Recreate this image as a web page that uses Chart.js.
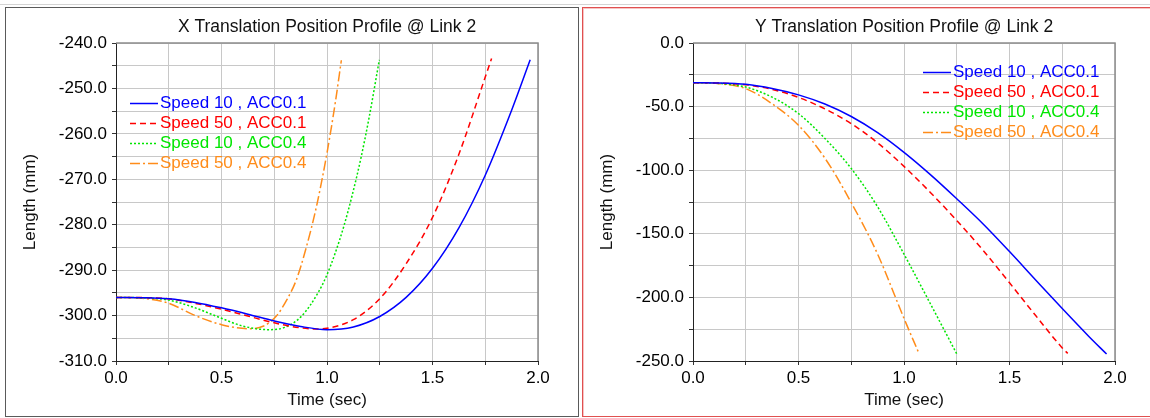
<!DOCTYPE html>
<html lang="en">
	<head>
		<meta charset="utf-8" />
		<title>Translation Position Profile @ Link 2</title>
		<script src="https://cdn.jsdelivr.net/npm/chart.js"></script>
		<style>
			body { margin: 0; width: 1150px; height: 418px; overflow: hidden; background: #fff; }
			.topline { position: absolute; left: 0; top: 4px; width: 1150px; height: 1px; background: #d4d4d4; }
			.panel { position: absolute; top: 7px; height: 408px; }
			#panelX { left: 5px; width: 572px; border: 1px solid #5a5a5a; }
			#panelY { left: 582px; width: 580px; border: 1px solid #e05050; box-shadow: inset 1px 1px 0 #f7c4c4; }
			canvas { position: absolute; left: 0; top: 0; }
		</style>
	</head>
	<body>
		<div class="topline"></div>
		<div class="panel" id="panelX"><canvas id="chartX" width="572" height="408"></canvas></div>
		<div class="panel" id="panelY"><canvas id="chartY" width="572" height="408"></canvas></div>
		<script>
			// series labels
			const seriesNames = ['Speed 10 , ACC0.1', 'Speed 50 , ACC0.1', 'Speed 10 , ACC0.4', 'Speed 50 , ACC0.4'];

			// X translation (mm) against time (sec)
			const xBlueT   = [0, 0.125, 0.25, 0.375, 0.5, 0.625, 0.75, 0.875, 1.0, 1.125, 1.25, 1.375, 1.5, 1.625, 1.75, 1.875, 1.963];
			const xBlueV   = [-296.0, -296.05, -296.3, -297.1, -298.3, -299.7, -301.2, -302.4, -303.1, -302.5, -300.2, -296.0, -289.6, -280.7, -269.1, -254.8, -243.7];
			const xRedT    = [0, 0.125, 0.25, 0.375, 0.5, 0.625, 0.75, 0.875, 0.95, 1.0, 1.125, 1.25, 1.375, 1.5, 1.625, 1.75, 1.78];
			const xRedV    = [-296.0, -296.05, -296.3, -297.3, -298.6, -300.1, -301.6, -302.7, -302.95, -302.8, -300.9, -296.3, -288.6, -278.4, -264.5, -247.5, -243.4];
			const xGreenT  = [0, 0.125, 0.25, 0.375, 0.5, 0.6, 0.72, 0.8, 0.88, 0.96, 1.0, 1.04, 1.08, 1.12, 1.16, 1.2, 1.248];
			const xGreenV  = [-296.0, -296.1, -296.6, -298.3, -300.6, -302.3, -303.1, -302.6, -300.1, -294.8, -291.0, -286.1, -280.3, -273.4, -265.5, -256.3, -243.7];
			const xOrangeT = [0, 0.125, 0.25, 0.375, 0.5, 0.63, 0.7, 0.76, 0.81, 0.855, 0.9, 0.95, 1.0, 1.04, 1.068];
			const xOrangeV = [-296.0, -296.2, -297.3, -300.0, -302.0, -302.9, -302.3, -300.1, -296.5, -292.1, -285.3, -276.0, -264.2, -252.9, -243.8];

			// Y translation (mm) against time (sec)
			const yBlueT   = [0, 0.125, 0.25, 0.375, 0.5, 0.625, 0.75, 0.875, 1.0, 1.125, 1.25, 1.375, 1.5, 1.625, 1.75, 1.875, 1.96];
			const yBlueV   = [-31.2, -31.4, -32.5, -35.8, -40.8, -48.0, -57.8, -70.5, -86.0, -103.5, -122.5, -142.3, -164.0, -186.5, -208.8, -230.5, -244.5];
			const yRedT    = [0, 0.125, 0.25, 0.375, 0.5, 0.625, 0.75, 0.875, 1.0, 1.125, 1.25, 1.375, 1.5, 1.625, 1.75, 1.776];
			const yRedV    = [-31.2, -31.5, -32.8, -36.5, -42.8, -51.8, -63.4, -78.5, -97.0, -117.5, -139.5, -163.0, -188.5, -214.5, -239.7, -244.0];
			const yGreenT  = [0, 0.125, 0.25, 0.375, 0.5, 0.625, 0.75, 0.875, 1.0, 1.125, 1.252];
			const yGreenV  = [-31.2, -31.8, -34.6, -42.6, -55.5, -75.0, -98.7, -128.8, -166.0, -205.0, -245.0];
			const yOrangeT = [0, 0.125, 0.25, 0.375, 0.5, 0.625, 0.75, 0.875, 1.0, 1.072];
			const yOrangeV = [-31.2, -32.0, -35.9, -47.8, -64.7, -90.5, -125.5, -166.0, -216.5, -244.5];

			// axis ranges and tick steps
			const timeMin = 0, timeMax = 2, timeStep = 0.25, timeLabelStep = 0.5;
			const xLenMin = -310, xLenMax = -240, xLenStep = 5, xLenLabelStep = 10;
			const yLenMin = -250, yLenMax = 0, yLenStep = 25, yLenLabelStep = 50;

			const colors = ['#0000ff', '#ff0000', '#00e600', '#ff8c1a'];
			const dashes = [[], [6, 4], [2, 2], [10, 3, 2, 3]];

			Chart.defaults.font.family = '"Liberation Sans", Arial, sans-serif';
			Chart.defaults.font.size = 17;
			Chart.defaults.color = '#000';

			function pts(ts, vs) {
				return ts.map((t, i) => ({x: t, y: vs[i]}));
			}

			function onStep(v, step) {
				const r = Math.abs(v / step - Math.round(v / step));
				return r < 1e-6;
			}

			/* legend drawn inside the plot, text in line colour */
			const insideLegend = {
				id: 'insideLegend',
				afterDatasetsDraw(chart, args, opts) {
					const {ctx, chartArea} = chart;
					const x0 = chartArea.left + opts.x;
					const y0 = chartArea.top + opts.y;
					ctx.save();
					ctx.font = '17px "Liberation Sans", Arial, sans-serif';
					ctx.textBaseline = 'middle';
					chart.data.datasets.forEach((ds, i) => {
						const y = Math.round(y0 + i * 20) + 0.5;
						ctx.strokeStyle = ds.borderColor;
						ctx.lineWidth = 1.5;
						ctx.setLineDash(ds.borderDash);
						ctx.beginPath();
						ctx.moveTo(x0, y);
						ctx.lineTo(x0 + opts.len, y);
						ctx.stroke();
						ctx.setLineDash([]);
						ctx.fillStyle = ds.borderColor;
						ctx.fillText(ds.label, x0 + opts.len + 2, y);
					});
					ctx.restore();
				}
			};

			/* grey frame on top and right of plot */
			const plotFrame = {
				id: 'plotFrame',
				beforeDatasetsDraw(chart) {
					const {ctx, chartArea} = chart;
					ctx.save();
					ctx.strokeStyle = '#8c8c8c';
					ctx.lineWidth = 1.5;
					ctx.beginPath();
					ctx.moveTo(chartArea.left, chartArea.top);
					ctx.lineTo(chartArea.right, chartArea.top);
					ctx.lineTo(chartArea.right, chartArea.bottom);
					ctx.stroke();
					ctx.restore();
				}
			};

			function makeChart(id, title, series, yMin, yMax, yStep, yLabelStep, legendPos) {
				const datasets = series.map((s, i) => ({
					label: seriesNames[i],
					data: pts(s[0], s[1]),
					borderColor: colors[i],
					backgroundColor: colors[i],
					borderDash: dashes[i],
					borderWidth: 1.5,
					pointRadius: 0,
					fill: false,
					cubicInterpolationMode: 'monotone'
				}));
				return new Chart(document.getElementById(id), {
					type: 'line',
					data: { datasets: datasets },
					plugins: [plotFrame, insideLegend],
					options: {
						responsive: false,
						animation: false,
						layout: { padding: { left: 0, right: 40, top: 0, bottom: 0 } },
						plugins: {
							legend: { display: false },
							tooltip: { enabled: false },
							title: {
								display: true,
								text: title,
								fullSize: false,
								color: '#111',
								font: { size: 17.5, weight: 'normal' },
								padding: { top: 9, bottom: 5 }
							},
							insideLegend: legendPos
						},
						scales: {
							x: {
								type: 'linear',
								min: timeMin,
								max: timeMax,
								afterFit: (scale) => { scale.height = 55; },
								ticks: {
									stepSize: timeStep,
									autoSkip: false,
									maxRotation: 0,
									padding: 3,
									color: '#000',
									callback: (v) => onStep(v, timeLabelStep) ? v.toFixed(1) : ''
								},
								grid: { color: '#c8c8c8', tickColor: '#333', tickLength: 4 },
								border: { color: '#222', width: 1 },
								title: {
									display: true,
									text: 'Time (sec)',
									color: '#111',
									font: { size: 17 },
									padding: { top: 0, bottom: 5.3 }
								}
							},
							y: {
								min: yMin,
								max: yMax,
								afterFit: (scale) => { scale.width = 110; },
								ticks: {
									stepSize: yStep,
									autoSkip: false,
									padding: 5,
									color: '#000',
									callback: (v) => onStep(v, yLabelStep) ? v.toFixed(1) : ''
								},
								grid: { color: '#c8c8c8', tickColor: '#333', tickLength: 4 },
								border: { color: '#222', width: 1 },
								title: {
									display: true,
									text: 'Length (mm)',
									color: '#111',
									font: { size: 17 },
									padding: { top: 13.8, bottom: 0 }
								}
							}
						}
					}
				});
			}

			makeChart('chartX', 'X Translation Position Profile @ Link 2',
				[[xBlueT, xBlueV], [xRedT, xRedV], [xGreenT, xGreenV], [xOrangeT, xOrangeV]],
				xLenMin, xLenMax, xLenStep, xLenLabelStep, { x: 14, y: 60, len: 28 });

			makeChart('chartY', 'Y Translation Position Profile @ Link 2',
				[[yBlueT, yBlueV], [yRedT, yRedV], [yGreenT, yGreenV], [yOrangeT, yOrangeV]],
				yLenMin, yLenMax, yLenStep, yLenLabelStep, { x: 230, y: 29, len: 28 });
		</script>
	</body>
</html>
